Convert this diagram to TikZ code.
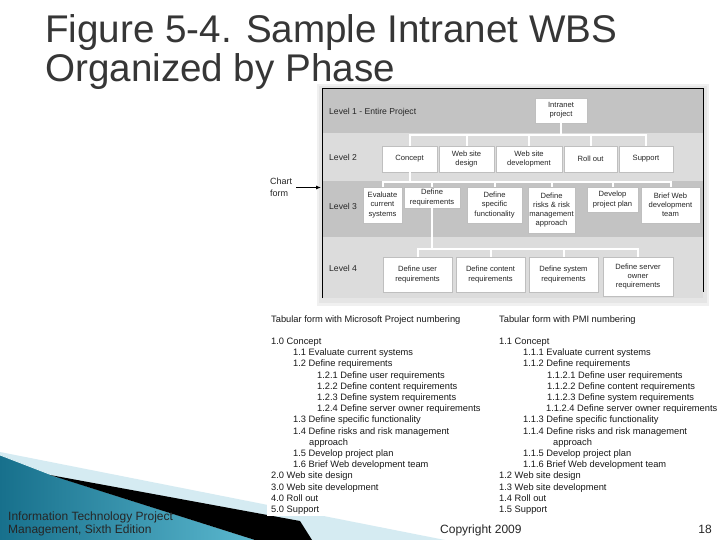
\documentclass[tikz,border=0pt]{standalone}
\usepackage{fontspec}
\setmainfont{Liberation Sans}
\usetikzlibrary{shadows,arrows.meta}
\definecolor{titlegray}{HTML}{363636}
\definecolor{banddark}{HTML}{C3C3C3}
\definecolor{bandlight}{HTML}{DCDCDC}
\definecolor{tealdark}{HTML}{17708C}
\definecolor{teallight}{HTML}{5BB8CF}
\definecolor{paleblue}{HTML}{D5EBF2}
\newcommand\chartfont{\fontsize{7.6}{9.2}\selectfont}
\begin{document}
\begin{tikzpicture}[x=1pt,y=-1pt,
  wbox/.style={fill=white, draw=black!25, line width=0.4pt, inner sep=0pt, align=center,
    font=\chartfont, text=black!85,
    drop shadow={shadow xshift=1pt,shadow yshift=-1pt,fill=black!40,opacity=0.8}},
  conn/.style={draw=white, line width=2pt},
  lvl/.style={anchor=west, inner sep=0pt, font=\fontsize{8.6}{10}\selectfont, text=black!85},
  tab/.style={anchor=base west, inner sep=0pt, font=\fontsize{9.3}{11}\selectfont, text=black!90},
  foot/.style={anchor=base west, inner sep=0pt, font=\fontsize{12}{13}\selectfont, text=black!85},
  ttl/.style={anchor=base west, inner sep=0pt, font=\fontsize{38.6}{40}\selectfont, text=titlegray}]
\useasboundingbox (0,0) rectangle (720,540);
\fill[white] (0,0) rectangle (720,540);

% bottom-left decoration
\fill[paleblue] (0,452) -- (445,540) -- (0,540) -- cycle;
\shade[left color=tealdark, right color=teallight] (0,455) -- (57,477) -- (255,540) -- (0,540) -- cycle;
\draw[white!80!teallight, line width=0.8pt] (0,455) -- (57,477);
\fill[black] (50,475) -- (300,521) -- (312,540) -- (255,540) -- cycle;
\fill[white] (267,309) rectangle (720,516);

% title
\node[ttl] (t1) at (45,43) {Figure 5-4. Sample Intranet WBS};
\node[ttl] (t2) at (45,82) {Organized by Phase};

% chart panel
\fill[black!6] (317,84) rectangle (709,306);
\fill[black!10] (319,86) rectangle (707,303);
\fill[banddark] (322,88) rectangle (703,133);
\fill[bandlight] (322,133) rectangle (703,181);
\fill[banddark] (322,181) rectangle (703,237);
\fill[bandlight] (322,237) rectangle (703,298);
\draw[black, line width=0.9pt] (322,298) -- (322,88) -- (703,88) -- (703,292);

\node[lvl] (l1) at (329,112) {Level 1 - Entire Project};
\node[lvl] (l2) at (329,157) {Level 2};
\node[lvl] (l3) at (329,206) {Level 3};
\node[lvl] (l4) at (329,268) {Level 4};

% level 1
\node[wbox, minimum width=52, minimum height=25] (ip) at (561,110.5) {Intranet\\project};
% level 2
\node[wbox, minimum width=55, minimum height=26] (cc) at (409.5,159) {Concept};
\node[wbox, minimum width=55, minimum height=26] (wd) at (466.5,159) {Web site\\design};
\node[wbox, minimum width=66, minimum height=26] (wv) at (529,159) {Web site\\development};
\node[wbox, minimum width=53, minimum height=26] (ro) at (590.5,159) {Roll out};
\node[wbox, minimum width=54, minimum height=26] (sp) at (646,159) {Support};
% level 3
\node[wbox, minimum width=39, minimum height=36] (ev) at (382.5,205) {Evaluate\\current\\systems};
\node[wbox, minimum width=56, minimum height=21] (dr) at (432,197.5) {Define\\requirements};
\node[wbox, minimum width=55, minimum height=36] (ds) at (494.5,205) {Define\\specific\\functionality};
\node[wbox, minimum width=47, minimum height=46] (rk) at (551.5,210) {Define\\risks \& risk\\management\\approach};
\node[wbox, minimum width=51, minimum height=25] (dp) at (612.5,199.5) {Develop\\project plan};
\node[wbox, minimum width=59, minimum height=36] (bw) at (670.5,205) {Brief Web\\development\\team};
% level 4
\node[wbox, minimum width=69, minimum height=35] (du) at (417.5,274.5) {Define user\\requirements};
\node[wbox, minimum width=69, minimum height=35] (dc) at (490.5,274.5) {Define content\\requirements};
\node[wbox, minimum width=69, minimum height=35] (dy) at (563.5,274.5) {Define system\\requirements};
\node[wbox, minimum width=70, minimum height=39] (do) at (638,276.5) {Define server\\owner\\requirements};

% connectors
\foreach \c in {cc,wd,wv,ro,sp} \draw[conn] (ip.south) -- ++(0,12) -| (\c.north);
\foreach \c in {ev,dr,ds,rk,dp,bw} \draw[conn] (cc.south) -- ++(0,9.5) -| (\c.north);
\foreach \c in {du,dc,dy,do} \draw[conn] (dr.south) -- ++(0,40.5) -| (\c.north);

% chart form label
\node[anchor=west, inner sep=0pt, align=left, font=\fontsize{9}{11.5}\selectfont, text=black!85] (chartlbl) at (270,187.5) {Chart\\form};
\coordinate (arrtip) at (321,187.5);
\draw[-{Latex[length=5pt,width=4pt]}, line width=0.8pt, shorten <=4pt] (chartlbl.east) -- (arrtip);

% tabular forms
\node[tab] (hl) at (271,322.5) {Tabular form with Microsoft Project numbering};
\node[tab] (hr) at (499,322.5) {Tabular form with PMI numbering};
\foreach \xx/\txt [count=\i] in {271/1.0 Concept, 293/1.1 Evaluate current systems, 293/1.2 Define requirements,
  317/1.2.1 Define user requirements, 317/1.2.2 Define content requirements, 317/1.2.3 Define system requirements,
  317/1.2.4 Define server owner requirements, 293/1.3 Define specific functionality,
  293/1.4 Define risks and risk management, 309/approach, 293/1.5 Develop project plan,
  293/1.6 Brief Web development team, 271/2.0 Web site design, 271/3.0 Web site development,
  271/4.0 Roll out, 271/5.0 Support}
  \node[tab] (ml\i) at (\xx,{344.5+11.2*(\i-1)}) {\txt};
\foreach \xx/\txt [count=\i] in {499/1.1 Concept, 523/1.1.1 Evaluate current systems, 523/1.1.2 Define requirements,
  547/1.1.2.1 Define user requirements, 547/1.1.2.2 Define content requirements, 547/1.1.2.3 Define system requirements,
  546/1.1.2.4 Define server owner requirements, 523/1.1.3 Define specific functionality,
  523/1.1.4 Define risks and risk management, 553/approach, 523/1.1.5 Develop project plan,
  523/1.1.6 Brief Web development team, 499/1.2 Web site design, 499/1.3 Web site development,
  499/1.4 Roll out, 499/1.5 Support}
  \node[tab] (pl\i) at (\xx,{344.5+11.2*(\i-1)}) {\txt};

% footer
\node[foot] (f1) at (8,520.3) {Information Technology Project};
\node[foot] (f2) at (8,533.5) {Management, Sixth Edition};
\node[foot] (cp) at (440,533.5) {Copyright 2009};
\node[foot, anchor=base east] (pg) at (712,533.5) {18};
\end{tikzpicture}
\end{document}
